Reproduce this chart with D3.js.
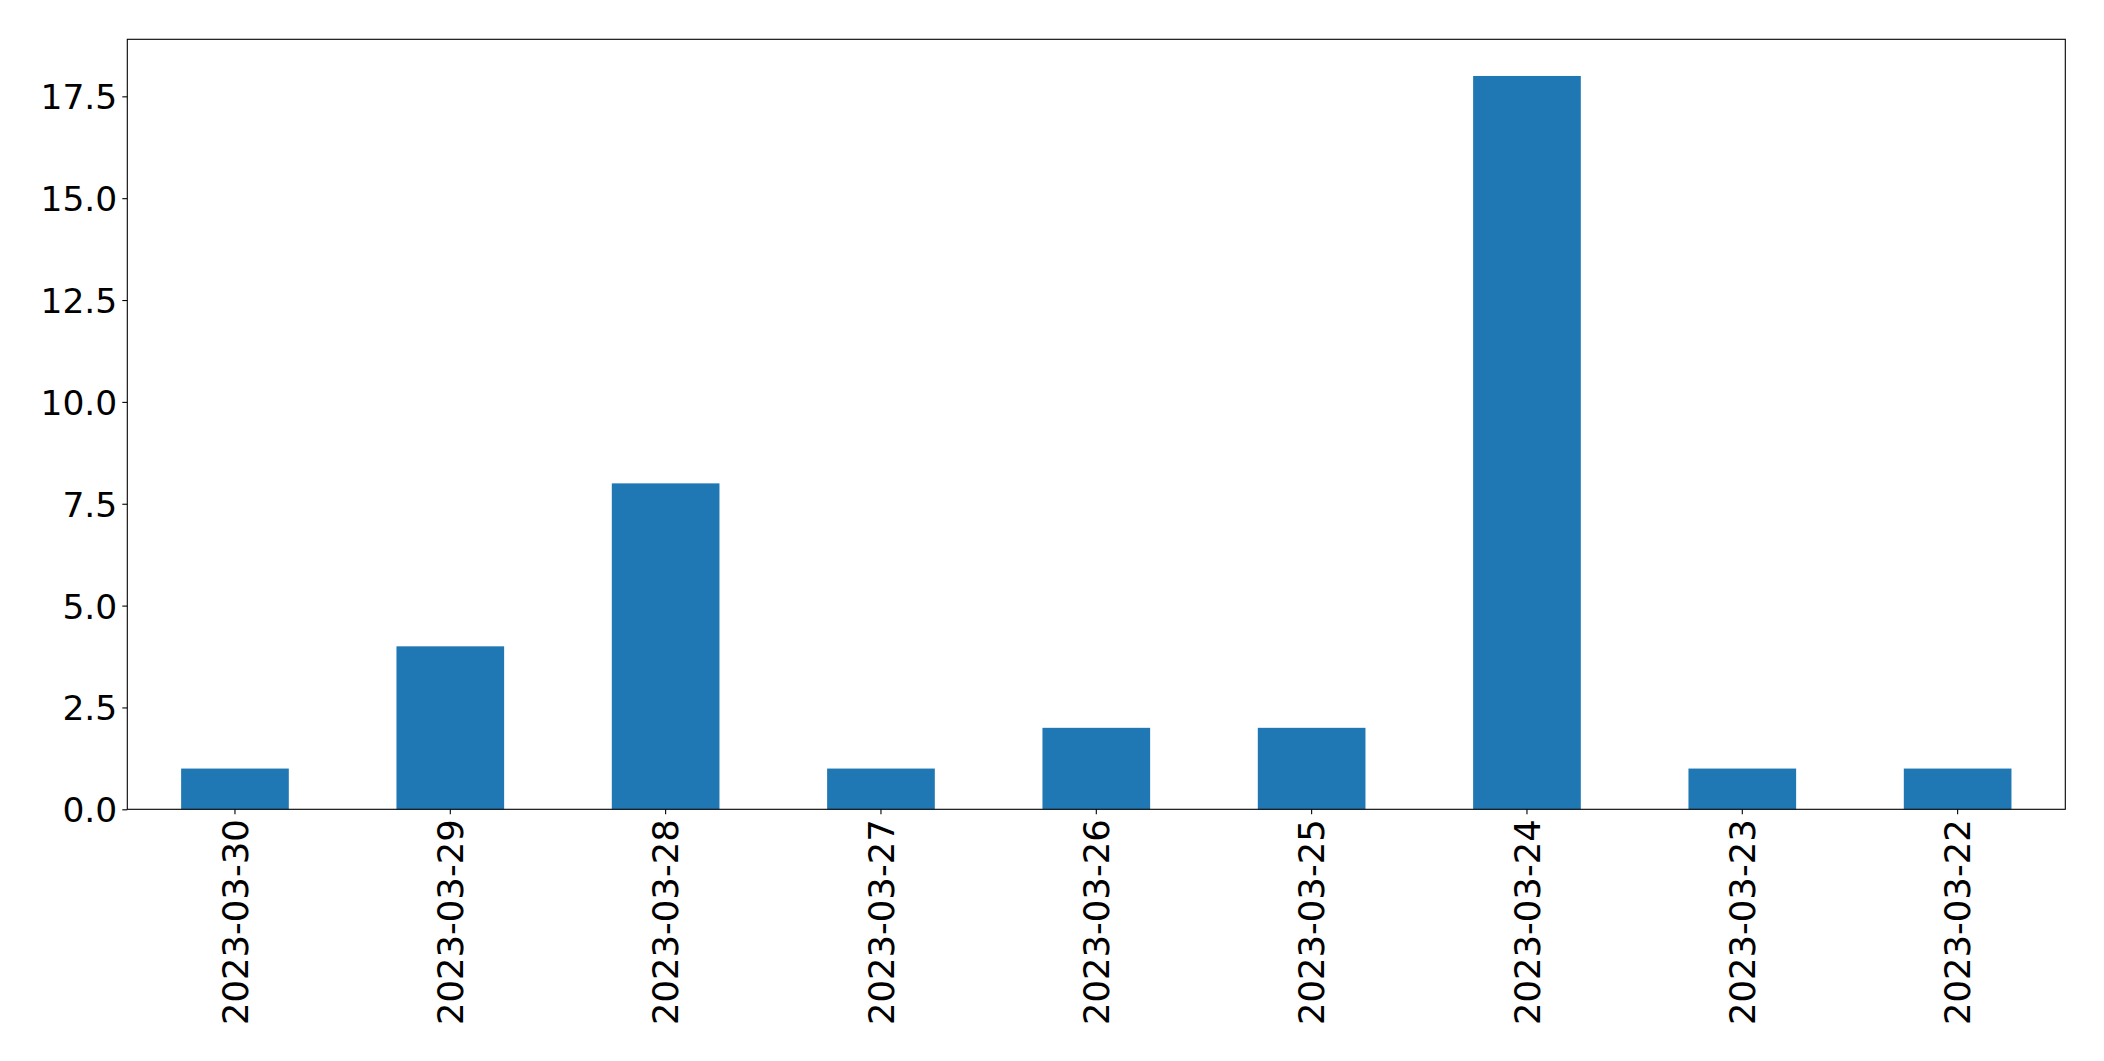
<!DOCTYPE html>
<html><head><meta charset="utf-8">
<script src="https://cdn.jsdelivr.net/npm/d3@7"></script>
<style>html,body{margin:0;padding:0;background:#fff;}svg{display:block;}</style>
</head><body>
<script>
const categories = ["2023-03-30","2023-03-29","2023-03-28","2023-03-27","2023-03-26","2023-03-25","2023-03-24","2023-03-23","2023-03-22"];
const values = [1,4,8,1,2,2,18,1,1];
const yTicks = [0,2.5,5,7.5,10,12.5,15,17.5];

(function(){
const W = 2104, H = 1061;
const mLeft = 127.3, mRight = 2065.3, mTop = 39.3, mBottom = 809.3;
const font = "'DejaVu Sans', sans-serif";
const fs = 34.5;

const svg = d3.select("body").append("svg").attr("width", W).attr("height", H);

const x = d3.scaleBand().domain(categories).range([mLeft, mRight]).paddingInner(0.5).paddingOuter(0.25);
const y = d3.scaleLinear().domain([0, 18.9]).range([mBottom, mTop]);

svg.append("g").selectAll("rect").data(values).join("rect")
  .attr("x", (d,i) => x(categories[i]))
  .attr("width", x.bandwidth())
  .attr("y", d => y(d))
  .attr("height", d => y(0) - y(d))
  .attr("fill", "#1f77b4");

const yAxis = svg.append("g").attr("transform", `translate(${mLeft},0)`)
  .call(d3.axisLeft(y).tickValues(yTicks).tickFormat(d3.format(".1f")).tickSize(5).tickPadding(5));
yAxis.select(".domain").remove();
yAxis.selectAll("line").attr("stroke", "#000").attr("stroke-width", 1.1);
yAxis.selectAll("text").attr("font-family", font).attr("font-size", fs).attr("fill", "#000").attr("dy", "0.36em");

const xAxis = svg.append("g").attr("transform", `translate(0,${mBottom})`)
  .call(d3.axisBottom(x).tickSize(5).tickPadding(5));
xAxis.select(".domain").remove();
xAxis.selectAll("line").attr("stroke", "#000").attr("stroke-width", 1.1);
xAxis.selectAll("text")
  .attr("font-family", font).attr("font-size", 35.4).attr("fill", "#000")
  .attr("text-anchor", "end")
  .attr("transform", "translate(0,10) rotate(-90)")
  .attr("x", 0).attr("y", 0).attr("dy", "0.36em");

svg.append("rect").attr("x", mLeft).attr("y", mTop).attr("width", mRight-mLeft).attr("height", mBottom-mTop)
  .attr("fill", "none").attr("stroke", "#000").attr("stroke-width", 1.1);
})();
</script>
</body></html>
